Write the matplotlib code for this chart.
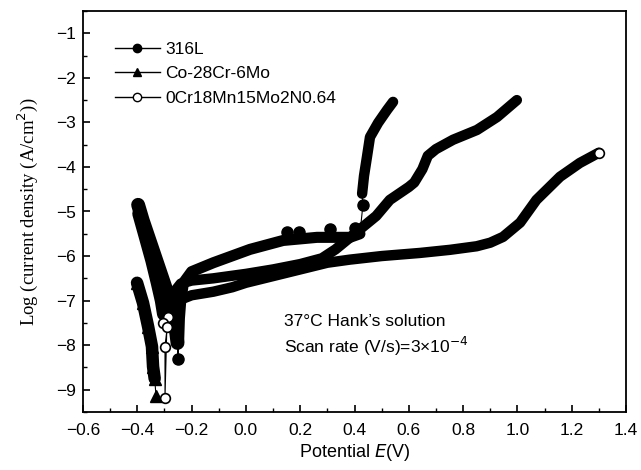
import matplotlib
matplotlib.use("Agg")
import matplotlib.pyplot as plt
from matplotlib.lines import Line2D
from matplotlib.ticker import MultipleLocator

plt.rcParams["font.family"] = ["Liberation Sans", "DejaVu Sans"]

# ---- 316L (filled circles) ----
l316_cath_E = [-0.397, -0.38, -0.355, -0.33, -0.305, -0.28, -0.265, -0.256, -0.252]
l316_cath_i = [-4.85, -5.2, -5.65, -6.1, -6.55, -7.0, -7.4, -7.75, -7.95]
l316_ecorr = (-0.25, -8.32)
l316_anod_E = [-0.248, -0.245, -0.24, -0.23, -0.2, -0.12, 0.015, 0.137, 0.262, 0.383, 0.42]
l316_anod_i = [-7.95, -7.4, -7.0, -6.6, -6.35, -6.15, -5.85, -5.65, -5.58, -5.58, -5.5]
l316_bump_E = [0.151, 0.195, 0.31, 0.402]
l316_bump_i = [-5.47, -5.47, -5.4, -5.36]
l316_jump = (0.431, -4.85)
l316_pit_E = [0.428, 0.435, 0.446, 0.457, 0.487, 0.52, 0.542]
l316_pit_i = [-4.6, -4.2, -3.77, -3.33, -3.01, -2.72, -2.54]

# ---- Co-28Cr-6Mo (filled triangles) ----
co_cath_E = [-0.401, -0.379, -0.36, -0.346, -0.342, -0.336]
co_cath_i = [-6.6, -7.05, -7.59, -8.03, -8.48, -8.75]
co_ecorr = (-0.331, -9.15)
co_anod_E = [-0.29, -0.27, -0.24, -0.2, -0.12, 0.0, 0.1, 0.2, 0.28, 0.33, 0.38,
             0.42, 0.48, 0.53, 0.6, 0.62, 0.65, 0.67, 0.7, 0.763, 0.851, 0.925, 0.998]
co_anod_i = [-7.2, -6.85, -6.62, -6.55, -6.5, -6.4, -6.3, -6.18, -6.05, -5.85, -5.6,
             -5.4, -5.1, -4.74, -4.45, -4.35, -4.05, -3.75, -3.6, -3.39, -3.17, -2.88, -2.5]

# ---- 0Cr18Mn15Mo2N0.64 (open circles) ----
cr_cath_E = [-0.393, -0.37, -0.345, -0.325, -0.31, -0.302]
cr_cath_i = [-5.05, -5.55, -6.1, -6.6, -7.0, -7.3]
cr_open_E = [-0.287, -0.305, -0.29, -0.298, -0.298]
cr_open_i = [-7.36, -7.5, -7.6, -8.03, -9.18]
cr_anod_E = [-0.29, -0.27, -0.25, -0.2, -0.12, -0.05, 0.0, 0.1, 0.2, 0.3, 0.383, 0.5,
             0.641, 0.752, 0.85, 0.9, 0.947, 1.01, 1.07, 1.157, 1.23, 1.30]
cr_anod_i = [-7.3, -7.1, -7.0, -6.88, -6.8, -6.7, -6.6, -6.45, -6.3, -6.15, -6.08, -6.0,
             -5.93, -5.86, -5.78, -5.7, -5.57, -5.25, -4.74, -4.22, -3.91, -3.68]

legend_labels = ["316L", "Co-28Cr-6Mo", "0Cr18Mn15Mo2N0.64"]

fig = plt.figure(figsize=(6.41, 4.70), dpi=100)
ax = fig.add_axes([0.1295, 0.1234, 0.8471, 0.8532])

band = dict(color="black", solid_capstyle="round", solid_joinstyle="round", zorder=3)
thin = dict(color="black", lw=0.8, zorder=2)

# 316L
ax.plot(l316_cath_E, l316_cath_i, lw=10, **band)
ax.plot(l316_anod_E, l316_anod_i, lw=8, **band)
ax.plot(l316_pit_E, l316_pit_i, lw=7.5, **band)
ax.plot([l316_cath_E[-1], l316_ecorr[0], l316_anod_E[0]],
        [l316_cath_i[-1], l316_ecorr[1], l316_anod_i[0]], **thin)
ax.plot(*l316_ecorr, "o", color="black", ms=8, zorder=4)
ax.plot([l316_anod_E[-1], l316_jump[0], l316_pit_E[0]],
        [l316_anod_i[-1], l316_jump[1], l316_pit_i[0]], **thin)
ax.plot(*l316_jump, "o", color="black", ms=8, zorder=4)
ax.plot(l316_bump_E, l316_bump_i, "o", color="black", ms=8, zorder=3)

# Co-28Cr-6Mo
ax.plot(co_cath_E, co_cath_i, lw=9, **band)
ax.plot(co_anod_E, co_anod_i, lw=7.5, **band)
ax.plot([co_cath_E[-1], co_ecorr[0]], [co_cath_i[-1], co_ecorr[1]], **thin)
ax.plot(*co_ecorr, "^", color="black", ms=8, zorder=4)
ax.plot(co_cath_E, co_cath_i, "^", color="black", ms=9, zorder=3)

# 0Cr18Mn15Mo2N0.64
ax.plot(cr_cath_E, cr_cath_i, lw=10, **band)
ax.plot(cr_anod_E, cr_anod_i, lw=7.5, **band)
ax.plot([cr_cath_E[-1]] + cr_open_E + [cr_anod_E[0]],
        [cr_cath_i[-1]] + cr_open_i + [cr_anod_i[0]], **thin)
ax.plot(cr_open_E, cr_open_i, "o", mfc="white", mec="black", mew=1.2, ms=7, zorder=5)
ax.plot(cr_anod_E[-1], cr_anod_i[-1], "o", mfc="white", mec="black", mew=1.2, ms=7,
        zorder=5)

ax.set_xlim(-0.6, 1.4)
ax.set_ylim(-9.5, -0.5)
ax.xaxis.set_major_locator(MultipleLocator(0.2))
ax.xaxis.set_minor_locator(MultipleLocator(0.1))
ax.yaxis.set_major_locator(MultipleLocator(1))
ax.yaxis.set_minor_locator(MultipleLocator(0.5))
ax.tick_params(which="both", direction="in", top=False, right=False, labelsize=12.5)
ax.tick_params(which="major", length=5, width=1.2)
ax.tick_params(which="minor", length=3, width=1.0)
ax.tick_params(axis="x", which="major", pad=8)
ax.tick_params(axis="y", which="major", pad=5)
for sp in ax.spines.values():
    sp.set_linewidth(1.3)

ax.set_xlabel("Potential $\\it{E}$(V)", fontsize=13, labelpad=3)
ax.set_ylabel("Log (current density (A/cm$^2$))", fontsize=13.5, labelpad=12,
              family=["Liberation Serif", "DejaVu Serif"])

ax.text(0.142, -7.47, "37\u00b0C Hank\u2019s solution", fontsize=12.5, va="center")
ax.text(0.142, -8.03, "Scan rate (V/s)=3\u00d710$^{-4}$", fontsize=12.5, va="center")

handles = [
    Line2D([], [], color="black", lw=1, marker="o", ms=6),
    Line2D([], [], color="black", lw=1, marker="^", ms=6),
    Line2D([], [], color="black", lw=1, marker="o", ms=6, mfc="white", mew=1),
]
ax.legend(handles, legend_labels, loc="upper left", frameon=False, fontsize=12.5,
          handlelength=2.6, handletextpad=0.3, labelspacing=0.55,
          bbox_to_anchor=(0.03, 0.963))

fig.savefig("out.png", dpi=100)
